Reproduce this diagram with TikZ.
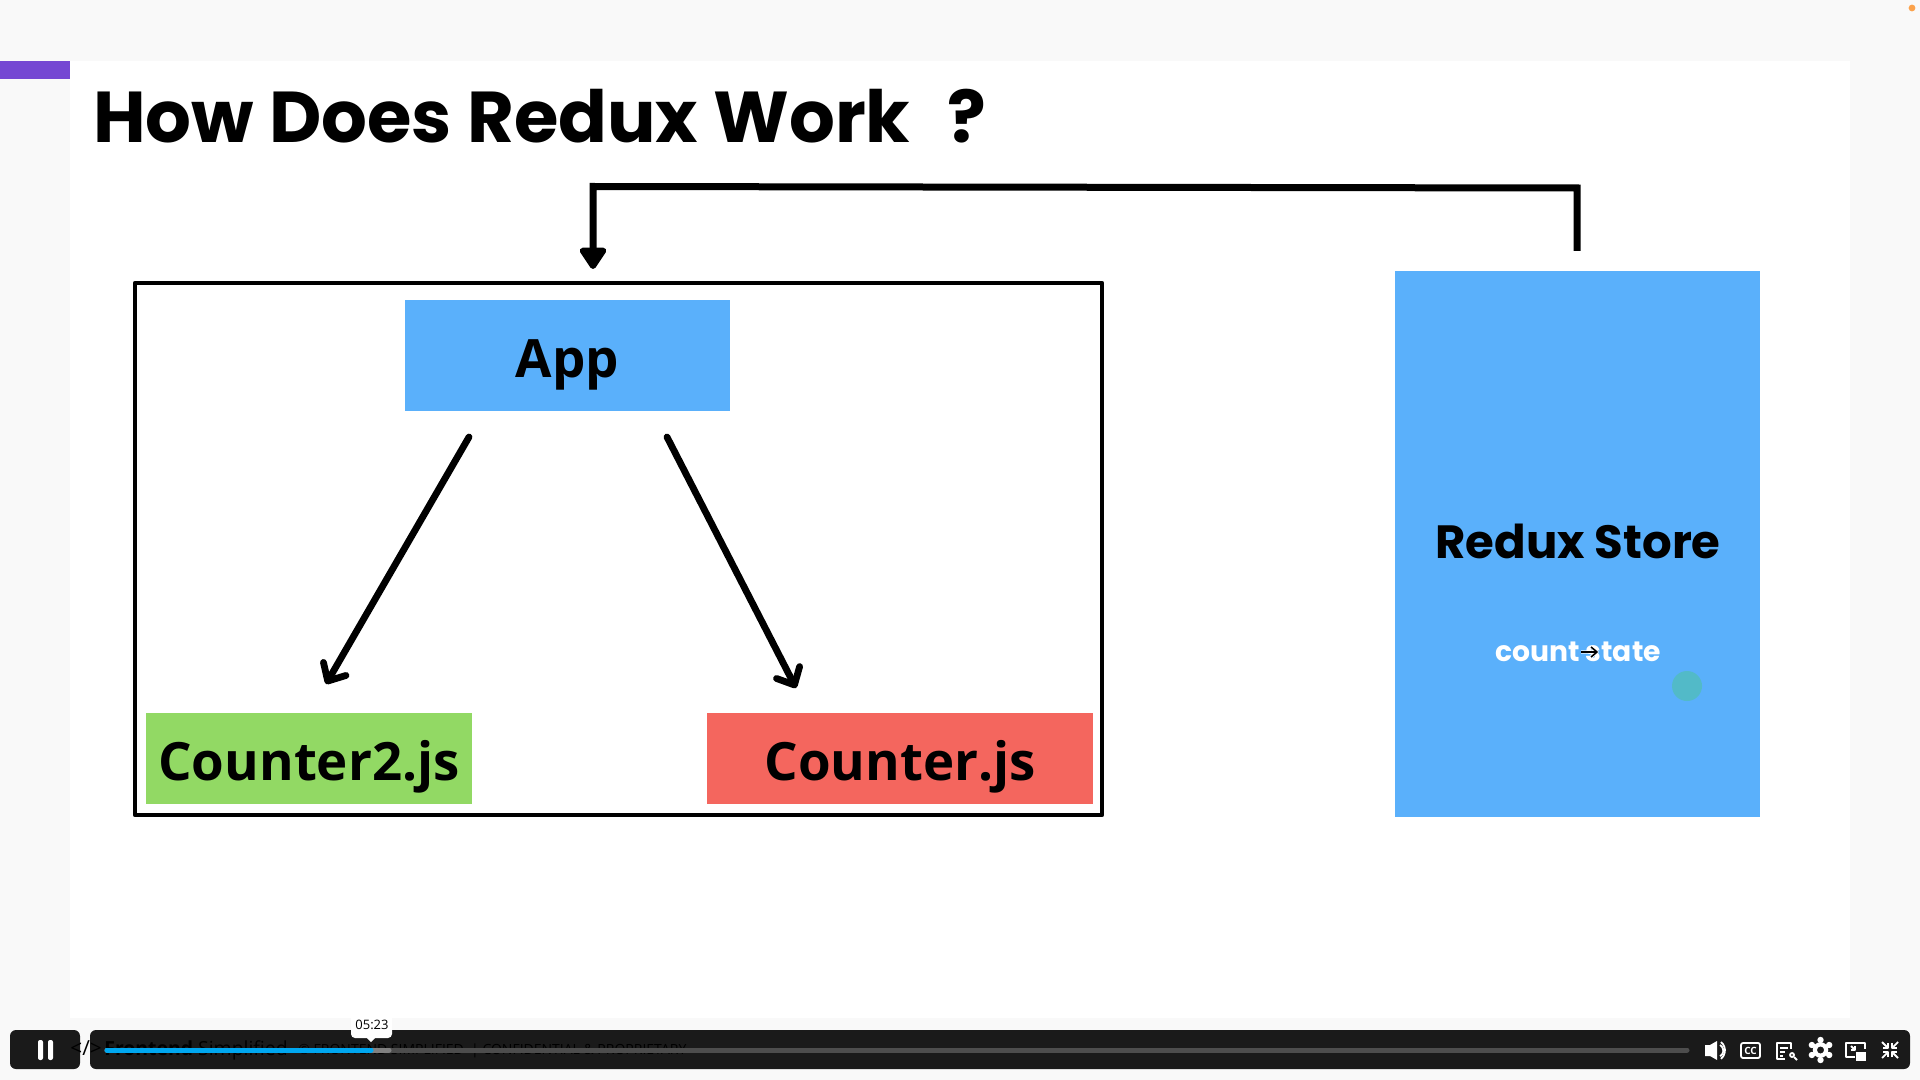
\documentclass[tikz,border=0pt]{standalone}
\usepackage{fontspec}
\setmainfont{Poppins}
\newfontfamily\opensans{Open Sans}
\usetikzlibrary{arrows.meta}
\definecolor{pagegray}{HTML}{F9F9F9}
\definecolor{slidepurple}{HTML}{7547D3}
\definecolor{boxblue}{HTML}{5AB0FB}
\definecolor{boxgreen}{HTML}{92D964}
\definecolor{boxred}{HTML}{F4665E}
\definecolor{barblack}{HTML}{1A1A1A}
\definecolor{barblue}{HTML}{00A7F0}
\definecolor{bargray}{HTML}{4D4D4D}
\definecolor{clickteal}{HTML}{52BAC8}
\definecolor{dotorange}{HTML}{FBA24C}
\tikzset{
	box/.style={anchor=north west,inner sep=0pt,outer sep=0pt},
	boxtext/.style={font=\opensans\fontsize{26.4}{28}\selectfont\bfseries,text=black,text height=22pt,text depth=0pt},
	link/.style={line width=3.4pt,line cap=round,-{Straight Barb[length=7pt,width=13pt,round,line width=3.4pt]}},
	icon/.style={draw=white,line width=.9pt,line join=round},
}
\begin{document}
\begin{tikzpicture}[x=.5pt,y=-.5pt,line join=round]
	\useasboundingbox (0,0) rectangle (1920,1080);
	\fill[pagegray] (0,0) rectangle (1920,1080);
	\fill[white] (70,61) rectangle (1850,1018);
	\fill[slidepurple] (0,61) rectangle (70,79);
	\fill[dotorange] (1912,8) circle (1.7pt);
	% titel
	\node[box,anchor=base west,font=\fontsize{36}{36}\selectfont\bfseries] (title) at (93,143) {How Does Redux Work\hspace{.3em} ?};
	% linkes Feld
	\node[box,draw=black,line width=2.2pt,minimum width=483.5pt,minimum height=266pt] (frame) at (135,283) {};
	\node[box,fill=boxblue,minimum width=162.5pt,minimum height=55.5pt,boxtext] (app) at (405,300) {App};
	\node[box,fill=boxgreen,minimum width=163pt,minimum height=45.5pt,boxtext] (counterB) at (146,713) {Counter2.js};
	\node[box,fill=boxred,minimum width=193pt,minimum height=45.5pt,boxtext] (counterA) at (707,713) {Counter.js};
	% store
	\node[box,fill=boxblue,minimum width=182.5pt,minimum height=273pt] (store) at (1395,271) {};
	\node[font=\fontsize{23.3}{24}\selectfont\bfseries] (storename) at (1578,541) {Redux Store};
	\node[font=\fontsize{14.1}{14}\selectfont\bfseries,text=white] (countstate) at (1578,652) {count state};
	\fill[clickteal] (1687,686) circle (7.5pt);
	% pfeile
	\coordinate (appL) at (469,437);
	\coordinate (appR) at (667,437);
	\coordinate (cntL) at (326,684);
	\coordinate (cntR) at (796,688);
	\coordinate (storetop) at (1577,251);
	\coordinate (feedin) at (593,269);
	\draw[link] (appL) -- (cntL);
	\draw[link] (appR) -- (cntR);
	\draw[line width=3.5pt,miter limit=10,line join=miter,-{Triangle[length=12pt,width=15pt,round]}] (storetop) -- (1577,188) -- (593,186.5) -- (feedin);
	% mauszeiger
	\draw[white,line width=1.6pt] (1581,652) -- (1597,652) (1591,647) -- (1597,652) -- (1591,657);
	\draw[black,line width=.8pt] (1581,652) -- (1597,652) (1591,647) -- (1597,652) -- (1591,657);
	% player
	\fill[barblack,rounded corners=3pt] (10,1030) rectangle (80,1069);
	\fill[barblack,rounded corners=3pt] (90,1030) rectangle (1910,1069);
	\fill[white,rounded corners=1pt] (38,1040) rectangle (43,1060) (48,1040) rectangle (53,1060);
	\node[anchor=base west,font=\opensans\fontsize{10.4}{11}\selectfont,text=black,inner sep=0pt] (logo) at (70,1055) {</>};
	\node[anchor=base west,font=\opensans\fontsize{9.7}{10}\selectfont,text=black,inner sep=0pt] (brand) at (104,1055) {\textbf{Frontend} Simplified};
	\node[anchor=base west,font=\opensans\fontsize{7}{8}\selectfont,text=black,inner sep=0pt] (legal) at (298,1054) {© FRONTEND SIMPLIFIED \ | CONFIDENTIAL \& PROPRIETARY};
	\draw[bargray,line width=2.5pt,line cap=round] (107,1050) -- (1687,1050);
	\draw[gray,line width=2.5pt,line cap=round] (107,1050) -- (389,1050);
	\draw[barblue,line width=2.5pt,line cap=round] (107,1050) -- (371,1050);
	\fill[white,rounded corners=2pt] (351,1012) rectangle (392,1038);
	\fill[white] (367,1038) -- (371,1042) -- (375,1038) -- cycle;
	\node[font=\opensans\fontsize{6.5}{7}\selectfont,inner sep=0pt] (timetip) at (372,1025) {05:23};
	% icons
	\fill[white] (1705,1045) -- (1710,1045) -- (1717,1041) -- (1717,1060) -- (1710,1056) -- (1705,1056) -- cycle;
	\draw[icon] (1720,1045) arc (-60:60:6.5);
	\draw[icon] (1721,1042) arc (-50:50:11);
	\draw[icon,rounded corners=1pt] (1741,1043) rectangle (1760,1058);
	\node[font=\opensans\fontsize{5}{5}\selectfont\bfseries,text=white,inner sep=0pt] (cc) at (1750.5,1050.5) {CC};
	\draw[icon] (1785,1059) -- (1777,1059) -- (1777,1043) -- (1791,1043) -- (1791,1049);
	\draw[icon] (1780,1048) -- (1788,1048) (1780,1052) -- (1785,1052) (1780,1056) -- (1783,1056);
	\draw[icon] (1792,1055) circle (2);
	\draw[icon] (1794,1057) -- (1797,1060);
	\fill[white,even odd rule] (1820.5,1050) circle (3.9pt) (1820.5,1050) circle (1.8pt);
	\foreach \a in {30,90,...,330}{
		\fill[white] (1820.5,1050) ++(\a:10) circle (1.6pt);
	}
	\draw[icon] (1855,1057) -- (1846,1057) -- (1846,1043) -- (1865,1043) -- (1865,1049);
	\fill[white] (1856,1052) rectangle (1866,1061);
	\draw[icon] (1851,1046) -- (1855,1050) (1851,1050) -- (1855,1050) -- (1855,1046);
	\foreach \sx/\sy in {1/1,-1/1,1/-1,-1/-1}{
		\draw[icon] (1890+\sx*2,1050+\sy*2) -- (1890+\sx*8,1050+\sy*8);
		\draw[icon] (1890+\sx*2,1050+\sy*7) -- (1890+\sx*2,1050+\sy*2) -- (1890+\sx*7,1050+\sy*2);
	}
\end{tikzpicture}
\end{document}
